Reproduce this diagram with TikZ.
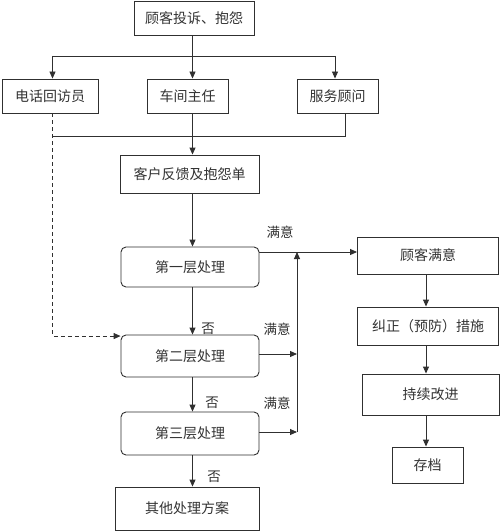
\documentclass[tikz,border=0pt]{standalone}
\usepackage{fontspec}
\newfontfamily\cjk{Noto Sans CJK SC}
\usetikzlibrary{arrows.meta,calc}
\definecolor{linec}{HTML}{303030}
\definecolor{textc}{HTML}{333333}
\begin{document}
\begin{tikzpicture}[x=1pt,y=-1pt,
  box/.style={draw=linec, line width=0.9pt, text=textc, font=\cjk\fontsize{14}{16}\selectfont, inner sep=0pt},
  rbox/.style={box, rounded corners=5pt},
  ln/.style={draw=linec, line width=0.9pt},
  arr/.style={ln, -{Triangle[length=7pt,width=6pt]}},
  lab/.style={text=textc, font=\cjk\fontsize{13.5}{15}\selectfont, inner sep=0pt}]
\useasboundingbox (0,0) rectangle (500,532);
\fill[white] (0,0) rectangle (500,532);

% nodes
\node[box, minimum width=120pt, minimum height=34pt] (top) at (194,18) {顾客投诉、抱怨};
\node[box, minimum width=96pt, minimum height=34pt] (phone) at (50,96) {电话回访员};
\node[box, minimum width=81pt, minimum height=34pt] (chejian) at (187.5,96) {车间主任};
\node[box, minimum width=81pt, minimum height=34pt] (fuwu) at (337.5,96) {服务顾问};
\node[box, minimum width=139pt, minimum height=38pt] (kehu) at (189.5,174) {客户反馈及抱怨单};
\node[rbox, minimum width=138pt, minimum height=40pt] (L1) at (190,267) {第一层处理};
\node[rbox, minimum width=138pt, minimum height=42pt] (L2) at (190,356) {第二层处理};
\node[rbox, minimum width=138pt, minimum height=43pt] (L3) at (190,433.5) {第三层处理};
\node[box, minimum width=144pt, minimum height=43pt] (other) at (187,508.5) {其他处理方案};
\node[box, minimum width=141pt, minimum height=37pt] (sat) at (428,255.5) {顾客满意};
\node[box, minimum width=141pt, minimum height=38pt] (jz) at (428,326) {纠正（预防）措施};
\node[box, minimum width=137pt, minimum height=41pt] (cx) at (430.5,394.5) {持续改进};
\node[box, minimum width=71pt, minimum height=36pt] (cd) at (427.5,465) {存档};

% labels
\node[lab] (m1) at (280,232) {满意};
\node[lab] (m2) at (277,329) {满意};
\node[lab] (m3) at (277,403) {满意};
\node[lab] (f1) at (208,329) {否};
\node[lab] (f2) at (212,403) {否};
\node[lab] (f3) at (214,477) {否};

% helper coordinates
\coordinate (sp) at (192.5,0);
\coordinate (b1) at (0,56);
\coordinate (b2) at (0,136);
\coordinate (xa) at (52.5,0);
\coordinate (xc) at (335,0);
\coordinate (xd) at (345,0);
\coordinate (xv) at (297,0);
\coordinate (xr) at (426,0);
\coordinate (y1) at (0,252);
\coordinate (y2) at (0,354);
\coordinate (y3) at (0,432);

% connectors
\draw[arr] (top.south -| sp) -- (chejian.north -| sp);
\draw[ln] (b1 -| xa) -- (b1 -| xc);
\draw[arr] (b1 -| xa) -- (phone.north -| xa);
\draw[arr] (b1 -| xc) -- (fuwu.north -| xc);
\draw[arr] (chejian.south -| sp) -- (kehu.north -| sp);
\draw[ln] (fuwu.south -| xd) |- (b2 -| xa);
\draw[arr, dash pattern=on 4pt off 3pt] (phone.south -| xa) |- ([yshift=-1.5pt]L2.north west);
\draw[arr] (kehu.south -| sp) -- (L1.north -| sp);
\draw[arr] (L1.south -| sp) -- (L2.north -| sp);
\draw[arr] (L2.south -| sp) -- (L3.north -| sp);
\draw[arr] (L3.south -| sp) -- (other.north -| sp);
\draw[arr] (L1.east |- y1) -- (sat.west |- y1);
\draw[arr] (L2.east |- y2) -- (xv |- y2);
\draw[arr] (L3.east |- y3) -- (xv |- y3);
\draw[arr] (xv |- y3) -- (xv |- y1);
\draw[arr] (sat.south -| xr) -- (jz.north -| xr);
\draw[arr] (jz.south -| xr) -- (cx.north -| xr);
\draw[arr] (cx.south -| xr) -- (cd.north -| xr);
\end{tikzpicture}
\end{document}
